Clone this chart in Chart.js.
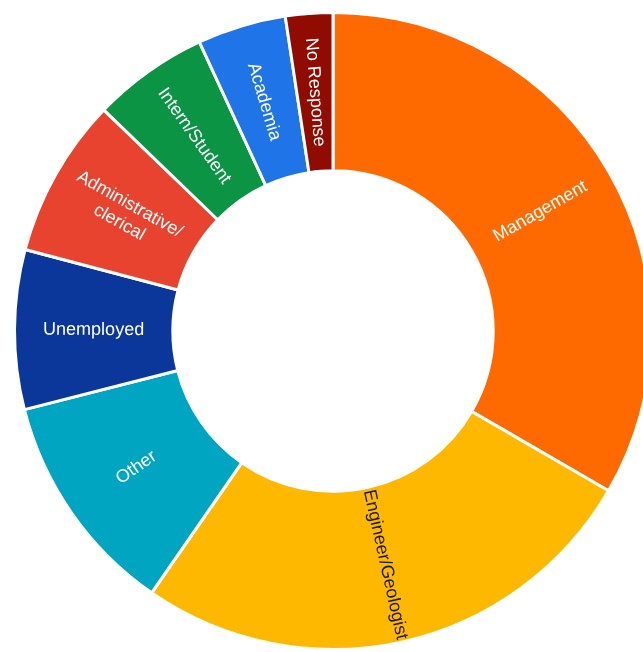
<!DOCTYPE html>
<html>
<head>
<meta charset="utf-8">
<title>Occupation</title>
<script src="https://cdn.jsdelivr.net/npm/chart.js@4.4.1/dist/chart.umd.min.js"></script>
<style>
    html, body { margin: 0; padding: 0; background: #fff; overflow: hidden; }
    #chartBox { position: absolute; left: 0; top: 0; width: 666px; height: 660px; }
</style>
</head>
<body>
<div id="chartBox"><canvas id="occupationChart"></canvas></div>
<script>
// Occupation groups, in clockwise order from the top
const categories = [
    'Management',
    'Engineer/Geologist',
    'Other',
    'Unemployed',
    ['Administrative/', 'clerical'],
    'Intern/Student',
    'Academia',
    'No Response'
];

// Share of respondents (%)
const shares = [33.4, 26.3, 11.4, 8.1, 8.1, 5.9, 4.5, 2.4];

const sliceColors = ['#ff6a00', '#ffb800', '#00a6c1', '#0a3799', '#e8432f', '#0b9444', '#1f74e8', '#900b00'];
const labelColors = ['#ffffff', '#1a1a1a', '#ffffff', '#ffffff', '#ffffff', '#ffffff', '#ffffff', '#ffffff'];

// Writes each category name inside its slice, turned along the radius
const sliceLabels = {
    id: 'sliceLabels',
    afterDatasetsDraw(chart) {
        const ctx = chart.ctx;
        const arcs = chart.getDatasetMeta(0).data;
        ctx.save();
        ctx.font = '18px "Liberation Sans", Arial, sans-serif';
        ctx.textAlign = 'center';
        ctx.textBaseline = 'middle';
        arcs.forEach((arc, i) => {
            const p = arc.getProps(['x', 'y', 'startAngle', 'endAngle', 'innerRadius', 'outerRadius'], true);
            const mid = (p.startAngle + p.endAngle) / 2;
            const r = (p.innerRadius + p.outerRadius) / 2;
            let turn = mid;
            if (Math.cos(mid) < 0) turn += Math.PI; // keep text the right way up
            const lines = [].concat(chart.data.labels[i]);
            ctx.save();
            ctx.translate(p.x + Math.cos(mid) * r, p.y + Math.sin(mid) * r);
            ctx.rotate(turn);
            ctx.fillStyle = labelColors[i];
            lines.forEach((line, j) => {
                ctx.fillText(line, 0, (j - (lines.length - 1) / 2) * 21);
            });
            ctx.restore();
        });
        ctx.restore();
    }
};

new Chart(document.getElementById('occupationChart').getContext('2d'), {
    type: 'doughnut',
    data: {
        labels: categories,
        datasets: [{
            data: shares,
            backgroundColor: sliceColors,
            borderColor: '#ffffff',
            borderWidth: 3
        }]
    },
    options: {
        responsive: true,
        maintainAspectRatio: false,
        animation: false,
        cutout: '50.3%',
        layout: { padding: { left: 13, right: 13, top: 11, bottom: 9 } },
        plugins: {
            legend: { display: false },
            tooltip: { enabled: false }
        }
    },
    plugins: [sliceLabels]
});
</script>
</body>
</html>
